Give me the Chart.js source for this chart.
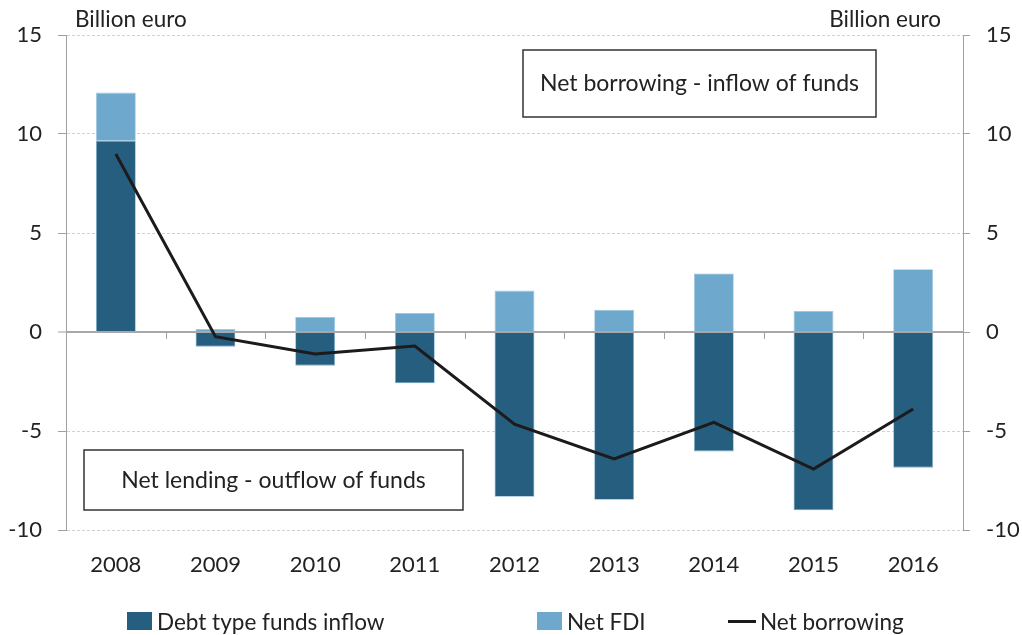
<!DOCTYPE html>
<html>
<head>
<meta charset="utf-8">
<script src="https://cdn.jsdelivr.net/npm/chart.js@4"></script>
<style>
  html, body { margin: 0; padding: 0; background: #fff; }
  #wrap { position: relative; width: 1022px; height: 635px; font-family: Lato, sans-serif; }
  #legend { position: absolute; left: 0; top: 607px; width: 1022px; height: 28px; font-size: 22.5px; color: #222; }
  .item { position: absolute; top: 0; display: flex; align-items: center; height: 28px; }
  .swatch { display: inline-block; width: 25px; height: 18px; margin-right: 5px; }
  .lineSw { display: inline-block; width: 28px; height: 3px; margin-right: 4px; }
</style>
</head>
<body>
<div id="wrap">
  <canvas id="c" width="1022" height="635"></canvas>
  <div id="legend"></div>
</div>
<script>
const years = ["2008", "2009", "2010", "2011", "2012", "2013", "2014", "2015", "2016"];
const debtInflow = [9.66, -0.74, -1.70, -2.59, -8.32, -8.47, -6.03, -9.00, -6.85];
const netFdi = [2.43, 0.15, 0.76, 0.96, 2.09, 1.13, 2.96, 1.06, 3.17];
const netBorrowing = [8.99, -0.24, -1.11, -0.71, -4.65, -6.41, -4.56, -6.92, -3.89];
const seriesNames = ["Debt type funds inflow", "Net FDI", "Net borrowing"];
const seriesColors = ["#255e7e", "#6ea9cd", "#1c1a1a"];
const yTicks = [-10, -5, 0, 5, 10, 15];
const unitLabel = "Billion euro";
const upperNote = "Net borrowing - inflow of funds";
const lowerNote = "Net lending - outflow of funds";

const FONT = "Lato, sans-serif";
const TEXT = "#222";

// extra drawing: unit labels, note boxes, small ticks on the zero line
const extras = {
  id: "extras",
  afterDraw(chart) {
    const c = chart.ctx;
    const x = chart.scales.x;
    const y = chart.scales.y;
    c.save();
    c.font = "22.5px " + FONT;
    c.fillStyle = TEXT;
    c.textBaseline = "middle";
    c.textAlign = "left";
    c.fillText(unitLabel, 75, 20);
    c.textAlign = "right";
    c.fillText(unitLabel, 941, 20);

    // zero line ticks between categories
    const y0 = y.getPixelForValue(0);
    const step = x.getPixelForValue(1) - x.getPixelForValue(0);
    c.strokeStyle = "#a0a0a0";
    c.lineWidth = 1;
    c.beginPath();
    for (let i = 0; i < years.length - 1; i++) {
      const px = Math.round(x.getPixelForValue(i) + step / 2) + 0.5;
      c.moveTo(px, y0);
      c.lineTo(px, y0 + 7);
    }
    c.stroke();

    // note boxes
    c.strokeStyle = "#333";
    c.lineWidth = 1.5;
    c.fillStyle = "#fff";
    c.fillRect(523, 50, 353, 67);
    c.strokeRect(523, 50, 353, 67);
    c.fillRect(84, 450, 379, 60);
    c.strokeRect(84, 450, 379, 60);
    c.fillStyle = TEXT;
    c.textAlign = "center";
    c.font = "23px " + FONT;
    c.fillText(upperNote, 699.5, 84);
    c.fillText(lowerNote, 273.5, 481);
    c.restore();
  }
};

const tickFont = { family: FONT, size: 22 };

new Chart(document.getElementById("c"), {
  data: {
    labels: years,
    datasets: [
      {
        type: "bar",
        label: seriesNames[0],
        data: debtInflow,
        backgroundColor: seriesColors[0],
        borderColor: "#7fb0d0",
        borderWidth: 0.8,
        stack: "bars",
        barPercentage: 0.4,
        categoryPercentage: 1.0,
        order: 2
      },
      {
        type: "bar",
        label: seriesNames[1],
        data: netFdi,
        backgroundColor: seriesColors[1],
        borderColor: "#9cc6e0",
        borderWidth: 0.8,
        stack: "bars",
        barPercentage: 0.4,
        categoryPercentage: 1.0,
        order: 2
      },
      {
        type: "line",
        label: seriesNames[2],
        data: netBorrowing,
        borderColor: seriesColors[2],
        borderWidth: 3,
        pointRadius: 0,
        tension: 0,
        stack: "line",
        order: 1
      }
    ]
  },
  plugins: [extras],
  options: {
    responsive: false,
    animation: false,
    layout: { padding: { top: 35, bottom: 38, left: 0, right: 0 } },
    plugins: { legend: { display: false }, tooltip: { enabled: false } },
    scales: {
      x: {
        stacked: true,
        grid: { display: false },
        border: { display: false },
        ticks: { font: tickFont, color: TEXT, padding: 14 },
        afterFit: s => { s.height = 67; }
      },
      y: {
        position: "left",
        min: -10,
        max: 15,
        stacked: true,
        afterBuildTicks: s => { s.ticks = yTicks.map(v => ({ value: v })); },
        afterFit: s => { s.width = 66; },
        ticks: { font: tickFont, color: TEXT, padding: 16 },
        grid: {
          color: ctx => (ctx.tick && ctx.tick.value === 0) ? "#a8a8a8" : "#d2d2d2",
          lineWidth: ctx => (ctx.tick && ctx.tick.value === 0) ? 2 : 1,
          tickColor: "#a0a0a0",
          tickLength: 8,
          tickWidth: 1,
          tickBorderDash: []
        },
        border: {
          display: true, color: "#a0a0a0", width: 1,
          dash: ctx => (ctx.tick && ctx.tick.value === 0) ? [] : [3, 2]
        }
      },
      y2: {
        position: "right",
        min: -10,
        max: 15,
        stacked: true,
        afterBuildTicks: s => { s.ticks = yTicks.map(v => ({ value: v })); },
        afterFit: s => { s.width = 59; },
        ticks: { font: tickFont, color: TEXT, padding: 16 },
        grid: { drawOnChartArea: false, tickColor: "#a0a0a0", tickLength: 7, tickBorderDash: [] },
        border: { display: true, color: "#a0a0a0", width: 1 }
      }
    }
  }
});

// legend
const legend = document.getElementById("legend");
const legendX = [127, 537, 728];
seriesNames.forEach((name, i) => {
  const item = document.createElement("div");
  item.className = "item";
  item.style.left = legendX[i] + "px";
  const sw = document.createElement("span");
  sw.className = i === 2 ? "lineSw" : "swatch";
  sw.style.background = seriesColors[i];
  item.appendChild(sw);
  item.appendChild(document.createTextNode(name));
  legend.appendChild(item);
});
</script>
</body>
</html>
